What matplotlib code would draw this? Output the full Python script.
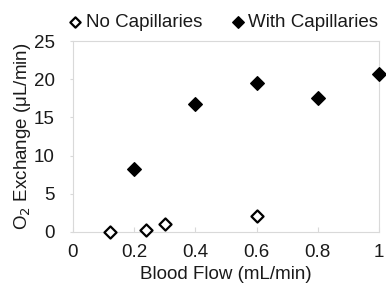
import matplotlib
matplotlib.use("Agg")
import matplotlib.pyplot as plt

plt.rcParams["font.family"] = ["Liberation Sans", "DejaVu Sans"]

flow_no = [0.12, 0.24, 0.30, 0.60]
o2_no = [0.0, 0.3, 1.1, 2.1]
flow_with = [0.2, 0.4, 0.6, 0.8, 1.0]
o2_with = [8.3, 16.7, 19.5, 17.6, 20.7]

x_ticks = [0, 0.2, 0.4, 0.6, 0.8, 1]
x_labels = ["0", "0.2", "0.4", "0.6", "0.8", "1"]
y_ticks = [0, 5, 10, 15, 20, 25]

TEXT = "#1a1a1a"
GRID = "#d9d9d9"


def main():
    fig = plt.figure(figsize=(3.86, 2.91), dpi=100)
    ax = fig.add_axes([0.189, 0.203, 0.793, 0.656])

    ax.scatter(flow_no, o2_no, marker="D", s=38, facecolors="white",
               edgecolors="black", linewidths=1.6, label="No Capillaries",
               zorder=3, clip_on=False)
    ax.scatter(flow_with, o2_with, marker="D", s=48, facecolors="black",
               edgecolors="black", linewidths=1.0, label="With Capillaries",
               zorder=3, clip_on=False)

    ax.set_xlim(0, 1)
    ax.set_ylim(0, 25)
    ax.set_xticks(x_ticks)
    ax.set_xticklabels(x_labels)
    ax.set_yticks(y_ticks)

    for side in ["left", "bottom", "top", "right"]:
        ax.spines[side].set_color(GRID)
        ax.spines[side].set_linewidth(0.8)
    ax.tick_params(axis="y", direction="out", length=2.5, color=GRID,
                   labelsize=13.5, labelcolor=TEXT, pad=10.5)
    ax.tick_params(axis="x", direction="in", length=3.5, color=GRID,
                   labelsize=13.5, labelcolor=TEXT, pad=9)

    ax.set_xlabel("Blood Flow (mL/min)", fontsize=13.5, color=TEXT, labelpad=3)
    ax.set_ylabel("O$_2$ Exchange (\u03bcL/min)", fontsize=13.5, color=TEXT,
                  labelpad=1)

    ax.legend(loc="lower center", bbox_to_anchor=(0.49, 0.995), ncol=2,
              frameon=False, fontsize=13.5, handletextpad=0.15,
              columnspacing=1.5, borderaxespad=0.2, handlelength=0.8,
              markerscale=0.85, labelcolor=TEXT)

    fig.savefig("out.png", dpi=100)
    plt.close(fig)


if __name__ == "__main__":
    main()
